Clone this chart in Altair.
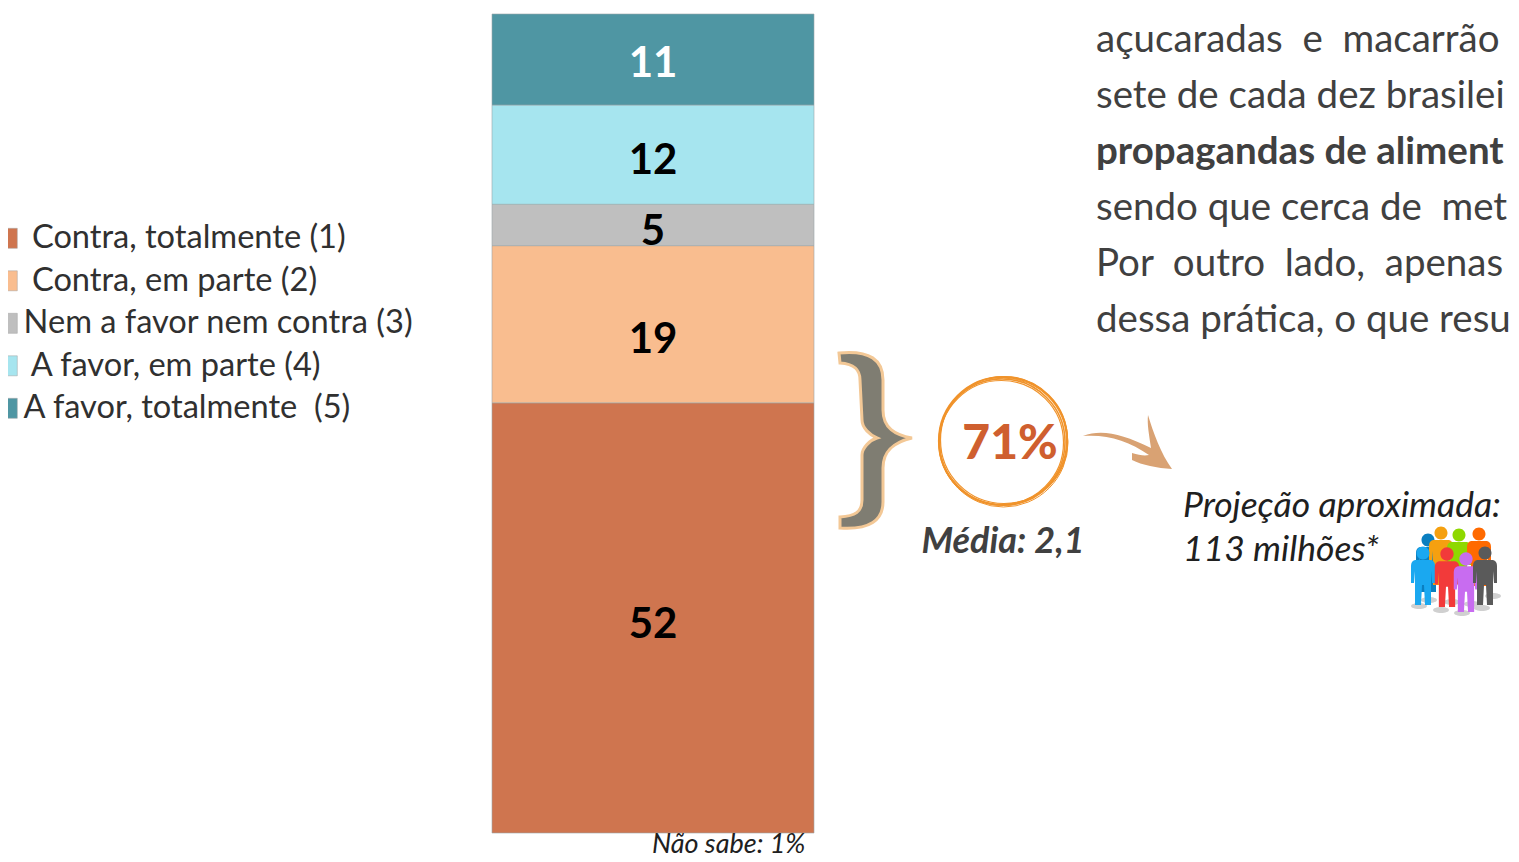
import altair as alt
import pandas as pd

categories = ["\u200b\u00a0Contra, totalmente (1)", "\u200b\u00a0Contra, em parte (2)", "Nem a favor nem contra (3)",
              "\u200b\u00a0A favor, em parte (4)", "A favor, totalmente\u00a0 (5)"]
values = [52, 19, 5, 12, 11]
label_positions = [25.1, 59.6, 72.7, 81.2, 92.9]
bar_colors = ["#cf754f", "#f9bd8f", "#bfbfbf", "#a6e5ef", "#4f96a3"]
label_colors = ["#000000", "#000000", "#000000", "#000000", "#ffffff"]
orders = [1, 2, 3, 4, 5]
body_lines = ["açucaradas\u00a0\u00a0e\u00a0\u00a0macarrão", "sete de cada dez brasilei",
              "propagandas de aliment", "sendo que cerca de\u00a0\u00a0met",
              "Por\u00a0\u00a0outro\u00a0\u00a0lado,\u00a0\u00a0apenas", "dessa prática, o que resu"]

W, H = 1503, 846
FONT = "Lato"
df = pd.DataFrame({"cat": categories, "value": values, "ord": orders, "col": "Total", "lab": label_colors,
                   "pos": label_positions})
one = pd.DataFrame({"a": [0]})

xs = alt.Scale(domain=["Total"], range=[484, 806], paddingInner=0, paddingOuter=0)
ys = alt.Scale(domain=[0, 99], range=[825, 6])


def px(x):
    return alt.value(x - 8)


def py(y):
    return alt.value(y - 8)


def text(s, x, y, size, color="#404040", align="left", **kw):
    return alt.Chart(one).mark_text(text=s, fontSize=size, color=color, align=align, baseline="middle",
                                    font=FONT, **kw).encode(x=px(x), y=py(y))


def shape(path, x, y, scale=1.0, **kw):
    return alt.Chart(one).mark_point(shape=path, size=4 * scale * scale, opacity=1, **kw).encode(x=px(x), y=py(y))


bars = alt.Chart(df).mark_bar(stroke="#9aa6a8", strokeWidth=0.6).encode(
    x=alt.X("col:N", scale=xs, axis=None),
    y=alt.Y("value:Q", stack="zero", scale=ys, axis=None),
    order=alt.Order("ord:Q"),
    color=alt.Color("cat:N", scale=alt.Scale(domain=categories, range=bar_colors), legend=alt.Legend(
        orient="none", legendX=-17, legendY=214, title=None, symbolType="square", symbolSize=400,
        symbolStrokeWidth=0.5, symbolStrokeColor="#a0a0a0", labelFont=FONT, labelFontSize=32.6, labelColor="#303030",
        labelOffset=0, rowPadding=9.5, labelLimit=500, symbolOpacity=1)),
)
labels = alt.Chart(df).mark_text(font=FONT, fontSize=42, fontWeight="bold").encode(
    x=alt.X("col:N", scale=xs, axis=None),
    y=alt.Y("pos:Q", scale=ys, axis=None),
    text="value:Q",
    color=alt.Color("lab:N", scale=None),
)

BRACE = ("M-36,-87 C-5,-90 8,-80 8,-60 L8,-30 C8,-12 20,-5 37,-2 C20,2 8,10 8,28 L8,62 C8,80 -5,90 -35,88 "
         "L-35,77 C-20,76 -13,72 -13,60 L-13,15 C-13,8 -5,0 2,-2 C-5,-5 -13,-12 -13,-20 L-15,-60 "
         "C-15,-70 -20,-76 -35,-77 Z")
ARROW = ("M-44,-6 C-25,-13 -5,-8 24,6 C22,-8 20,-18 21,-27 C26,-10 34,12 45,27 C30,26 15,23 5,18 L5,11 "
         "C12,13 17,14 22,13 C2,-1 -20,-8 -44,-6 Z")
PERSON = ("M-6.5,0 A6.5,6.5 0 1 1 6.5,0 A6.5,6.5 0 1 1 -6.5,0 Z "
          "M-8,7 L8,7 Q12,8 12,13 L12,30 L9,30 L8,18 L8,52 L2,52 L1,32 L-1,32 L-2,52 L-8,52 L-8,18 "
          "L-9,30 L-12,30 L-12,13 Q-12,8 -8,7 Z")
SHADOW = "M-8,0 A8,3 0 1 1 8,0 A8,3 0 1 1 -8,0 Z"
people = [(1428, 540, "#0a7fc0", 1.0), (1441, 533, "#f5a010", 1.0), (1459, 535, "#8ed800", 1.0),
          (1479, 534, "#ff6a00", 1.0), (1423, 553, "#1aa8f0", 1.0), (1447, 554, "#f23a3a", 1.02),
          (1466, 559, "#c86cf0", 1.02), (1485, 553, "#5a5a5a", 1.0)]
shadows = [(1419, 606), (1441, 610), (1462, 613), (1482, 608), (1429, 600), (1452, 602), (1472, 604), (1493, 596)]

layers = [bars, labels]
layers += [alt.Chart(one).mark_text(text=s, fontSize=38.5, color="#404040", align="left", baseline="middle", font=FONT,
                                    fontWeight="bold" if i == 2 else "normal").encode(x=px(1096), y=py(40 + 56 * i))
           for i, s in enumerate(body_lines)]
layers += [
    shape(BRACE, 875, 440, fill="#7f7d72", stroke="#f3c896", strokeWidth=3, filled=True),
    shape(ARROW, 1127, 442, fill="#d9a273", filled=True, strokeWidth=0),
]
for dx, dy, d, w in [(0, 0, 64, 2.2), (-1, 1, 63, 1.6), (1, -1, 63.5, 1.2), (-1.5, 1.5, 62, 1.2), (0.5, 1.5, 64.5, 1.0)]:
    layers.append(alt.Chart(one).mark_point(shape="circle", size=(2 * d) ** 2, stroke="#f0932b", strokeWidth=w,
                                            opacity=1, filled=False).encode(x=px(1003 + dx), y=py(441 + dy)))
layers += [
    text("71%", 1010, 445, 48, "#cf5f2f", "center", fontWeight=900),
    text("Média: 2,1", 1003, 542, 36, "#404040", "center", fontWeight="bold", fontStyle="italic"),
    text("Projeção aproximada:", 1183, 506, 35.5, "#202020", fontStyle="italic"),
    text("113 milhões*", 1183, 550, 35.5, "#202020", fontStyle="italic"),
    text("Não sabe: 1%", 652, 845, 27, "#202020", fontStyle="italic"),
]
layers += [shape(SHADOW, x, y, fill="#d0d0d0", filled=True, strokeWidth=0) for x, y in shadows]
layers += [shape(PERSON, x, y, s, fill=c, filled=True, strokeWidth=0) for x, y, c, s in people]

chart = alt.layer(*layers).resolve_scale(color="independent").properties(
    width=W, height=H, padding=0, autosize=alt.AutoSizeParams(type="none"), background="white",
).configure_view(strokeWidth=0)

chart.save("out.html", embed_options={"renderer": "svg", "actions": False})
